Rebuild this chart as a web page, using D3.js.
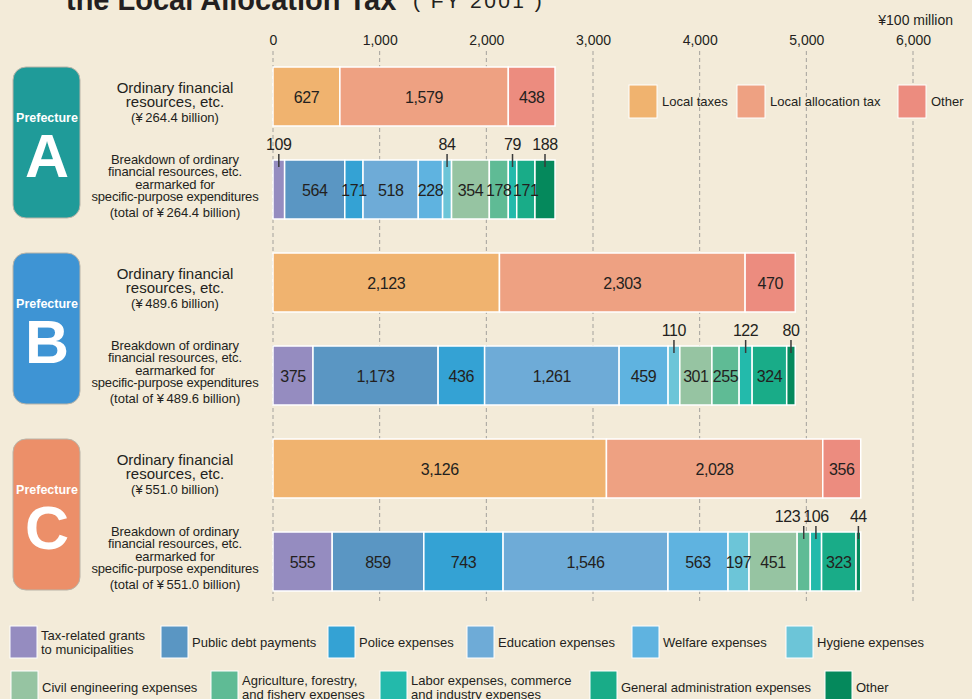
<!DOCTYPE html>
<html>
<head>
<meta charset="utf-8">
<script src="https://cdn.jsdelivr.net/npm/d3@7"></script>
<style>
  html, body { margin: 0; padding: 0; background: #f3ebd9; }
  svg { display: block; font-family: "Liberation Sans", Arial, Helvetica, sans-serif; }
</style>
</head>
<body>
<svg id="chart" width="972" height="699"></svg>
<script>
// Ordinary financial resources and their earmarked breakdown, FY 2001 (¥100 million)
const prefectures = ["A", "B", "C"];
const totalLabels = ["264.4", "489.6", "551.0"];

const sourceCategories = ["Local taxes", "Local allocation tax", "Other"];
const sourceValues = [
  [627, 1579, 438],
  [2123, 2303, 470],
  [3126, 2028, 356]
];

const expenseCategories = [
  "Tax-related grants to municipalities",
  "Public debt payments",
  "Police expenses",
  "Education expenses",
  "Welfare expenses",
  "Hygiene expenses",
  "Civil engineering expenses",
  "Agriculture, forestry, and fishery expenses",
  "Labor expenses, commerce and industry expenses",
  "General administration expenses",
  "Other"
];
const expenseValues = [
  [109, 564, 171, 518, 228, 84, 354, 178, 79, 171, 188],
  [375, 1173, 436, 1261, 459, 110, 301, 255, 122, 324, 80],
  [555, 859, 743, 1546, 563, 197, 451, 123, 106, 323, 44]
];

const xTicks = [0, 1000, 2000, 3000, 4000, 5000, 6000];

// Palettes
const sourceColors = ["#f0b36f", "#eea182", "#ec8c7f"];
const expenseColors = ["#958cc0", "#5a96c3", "#34a2d4", "#6eabd7", "#5fb3e0", "#6cc5d8",
                       "#96c4a2", "#5fbb95", "#23baab", "#19ac88", "#05895c"];
const badgeColors = ["#1f9b99", "#3e94d4", "#ec8f69"];

const ink = "#231f20";
const fmt = d3.format(",");

const svg = d3.select("#chart");
const x = d3.scaleLinear().domain([0, 6000]).range([273, 913]);

const barH = 59;
const groupStep = 186;
const firstTop = 67;
const breakdownOffset = 93;

// Title (runs off the top edge)
svg.append("text")
  .attr("x", 66).attr("y", 10)
  .attr("font-size", 29).attr("font-weight", "bold").attr("fill", ink)
  .text("the Local Allocation Tax");
svg.append("text")
  .attr("x", 413).attr("y", 8)
  .attr("font-size", 21).attr("letter-spacing", 2.4).attr("fill", ink)
  .text("( FY 2001 )");

// Unit
svg.append("text")
  .attr("x", 953).attr("y", 25)
  .attr("text-anchor", "end").attr("font-size", 14).attr("fill", ink)
  .text("\u00A5100 million");

// Axis ticks and dashed gridlines
const axis = d3.axisTop(x).tickValues(xTicks).tickFormat(fmt).tickSize(0).tickPadding(0);
const axisG = svg.append("g").attr("transform", "translate(0,45)").call(axis);
axisG.select(".domain").remove();
axisG.selectAll("text")
  .attr("font-size", 14).attr("fill", ink)
  .attr("font-family", "\"Liberation Sans\", Arial, sans-serif")
  .attr("dy", 0);

svg.append("g").selectAll("line")
  .data(xTicks)
  .join("line")
  .attr("x1", d => x(d)).attr("x2", d => x(d))
  .attr("y1", 51).attr("y2", 604)
  .attr("stroke", "#a3a19c").attr("stroke-width", 1)
  .attr("stroke-dasharray", "4,3");

function stack(values) {
  let acc = 0;
  return values.map((v, j) => {
    const s = { value: v, index: j, x0: acc, x1: acc + v };
    acc += v;
    return s;
  });
}

prefectures.forEach((p, i) => {
  const top = firstTop + groupStep * i;
  const bTop = top + breakdownOffset;

  // Badge
  svg.append("rect")
    .attr("x", 13).attr("y", top).attr("width", 67).attr("height", 151)
    .attr("rx", 13).attr("ry", 13)
    .attr("fill", badgeColors[i]).attr("stroke", "#b9b4a8").attr("stroke-width", 1);
  svg.append("text")
    .attr("x", 47).attr("y", top + 55)
    .attr("text-anchor", "middle").attr("font-size", 12.5).attr("font-weight", "bold")
    .attr("fill", "#fff").text("Prefecture");
  svg.append("text")
    .attr("x", 47).attr("y", top + 110)
    .attr("text-anchor", "middle").attr("font-size", 61).attr("font-weight", "bold")
    .attr("fill", "#fff").text(p);

  // Row captions
  const cap1 = [
    { t: "Ordinary financial", y: top + 25.5, s: 15, ls: 0 },
    { t: "resources, etc.", y: top + 40, s: 15, ls: 0 },
    { t: "(\u00A5\u2009" + totalLabels[i] + " billion)", y: top + 54.5, s: 13, ls: 0 }
  ];
  const cap2 = [
    { t: "Breakdown of ordinary", y: bTop + 3.5, s: 13, ls: -0.1 },
    { t: "financial resources, etc.", y: bTop + 16, s: 13, ls: -0.1 },
    { t: "earmarked for", y: bTop + 28.5, s: 13, ls: -0.1 },
    { t: "specific-purpose expenditures", y: bTop + 41, s: 13, ls: -0.2 },
    { t: "(total of \u00A5\u2009" + totalLabels[i] + " billion)", y: bTop + 56.5, s: 13, ls: 0 }
  ];
  svg.append("g").selectAll("text")
    .data(cap1.concat(cap2))
    .join("text")
    .attr("x", 175).attr("y", d => d.y)
    .attr("text-anchor", "middle")
    .attr("font-size", d => d.s)
    .attr("letter-spacing", d => d.ls)
    .attr("fill", ink)
    .text(d => d.t);

  // Financial resources bar
  const srcSegs = stack(sourceValues[i]);
  const g1 = svg.append("g");
  g1.selectAll("rect")
    .data(srcSegs)
    .join("rect")
    .attr("x", d => x(d.x0)).attr("y", top)
    .attr("width", d => x(d.x1) - x(d.x0)).attr("height", barH)
    .attr("fill", d => sourceColors[d.index])
    .attr("stroke", "#fff").attr("stroke-width", 1.5);
  g1.selectAll("text")
    .data(srcSegs)
    .join("text")
    .attr("x", d => (x(d.x0) + x(d.x1)) / 2).attr("y", top + barH / 2 + 6)
    .attr("text-anchor", "middle").attr("font-size", 16).attr("letter-spacing", -0.4)
    .attr("fill", ink).text(d => fmt(d.value));

  // Earmarked breakdown bar
  const expSegs = stack(expenseValues[i]);
  const last = expSegs.length - 1;
  const g2 = svg.append("g");
  g2.selectAll("rect")
    .data(expSegs)
    .join("rect")
    .attr("x", d => x(d.x0)).attr("y", bTop)
    .attr("width", d => x(d.x1) - x(d.x0)).attr("height", barH)
    .attr("fill", d => expenseColors[d.index])
    .attr("stroke", "#fff").attr("stroke-width", 1.5);

  const outside = d => d.value < 125 || d.index === last;

  g2.selectAll("text.inside")
    .data(expSegs.filter(d => !outside(d)))
    .join("text")
    .attr("class", "inside")
    .attr("x", d => (x(d.x0) + x(d.x1)) / 2).attr("y", bTop + barH / 2 + 6)
    .attr("text-anchor", "middle").attr("font-size", 16).attr("letter-spacing", -0.4)
    .attr("fill", ink).text(d => fmt(d.value));

  const outs = expSegs.filter(outside);
  g2.selectAll("line.leader")
    .data(outs)
    .join("line")
    .attr("class", "leader")
    .attr("x1", d => (x(d.x0) + x(d.x1)) / 2).attr("x2", d => (x(d.x0) + x(d.x1)) / 2)
    .attr("y1", bTop - 6).attr("y2", bTop + 7)
    .attr("stroke", "#3a3a3a").attr("stroke-width", 1.5);

  const outTexts = g2.selectAll("text.outside")
    .data(outs)
    .join("text")
    .attr("class", "outside")
    .attr("x", d => (x(d.x0) + x(d.x1)) / 2).attr("y", bTop - 10)
    .attr("text-anchor", "middle").attr("font-size", 16).attr("letter-spacing", -0.4)
    .attr("fill", ink).text(d => fmt(d.value));

  // Nudge crowded outside labels leftwards so they do not overlap
  const nodes = outTexts.nodes();
  const pos = nodes.map(n => ({ node: n, cx: +n.getAttribute("x"), w: n.getComputedTextLength() }));
  for (let k = pos.length - 2; k >= 0; k--) {
    const a = pos[k], b = pos[k + 1];
    const limit = b.cx - b.w / 2 - 3;
    if (a.cx + a.w / 2 > limit) {
      a.cx = limit - a.w / 2;
      a.node.setAttribute("x", a.cx);
    }
  }
});

// Legend for financial resources
const srcLegendX = [629, 737, 898];
const srcLegend = svg.append("g");
sourceCategories.forEach((c, j) => {
  srcLegend.append("rect")
    .attr("x", srcLegendX[j]).attr("y", 85).attr("width", 28).attr("height", 33)
    .attr("fill", sourceColors[j]).attr("stroke", "#fff").attr("stroke-width", 1);
  srcLegend.append("text")
    .attr("x", srcLegendX[j] + 33).attr("y", 106)
    .attr("font-size", 13).attr("fill", ink).text(c);
});

// Legend for expenditure categories
const expLegendLayout = [
  { x: 10, row: 0, lines: ["Tax-related grants", "to municipalities"] },
  { x: 161, row: 0, lines: ["Public debt payments"] },
  { x: 328, row: 0, lines: ["Police expenses"] },
  { x: 467, row: 0, lines: ["Education expenses"] },
  { x: 632, row: 0, lines: ["Welfare expenses"] },
  { x: 786, row: 0, lines: ["Hygiene expenses"] },
  { x: 11, row: 1, lines: ["Civil engineering expenses"] },
  { x: 211, row: 1, lines: ["Agriculture, forestry,", "and fishery expenses"] },
  { x: 380, row: 1, lines: ["Labor expenses, commerce", "and industry expenses"] },
  { x: 590, row: 1, lines: ["General administration expenses"] },
  { x: 825, row: 1, lines: ["Other"] }
];
const rowTop = [626, 671];
const expLegend = svg.append("g");
expLegendLayout.forEach((L, j) => {
  const yTop = rowTop[L.row];
  expLegend.append("rect")
    .attr("x", L.x).attr("y", yTop).attr("width", 27).attr("height", 32)
    .attr("fill", expenseColors[j]).attr("stroke", "#fff").attr("stroke-width", 1);
  const t = expLegend.append("text")
    .attr("font-size", 13).attr("fill", ink);
  if (L.lines.length === 1) {
    t.append("tspan").attr("x", L.x + 31).attr("y", yTop + 21).text(L.lines[0]);
  } else {
    t.append("tspan").attr("x", L.x + 31).attr("y", yTop + 14).text(L.lines[0]);
    t.append("tspan").attr("x", L.x + 31).attr("y", yTop + 28).text(L.lines[1]);
  }
});
</script>
</body>
</html>
